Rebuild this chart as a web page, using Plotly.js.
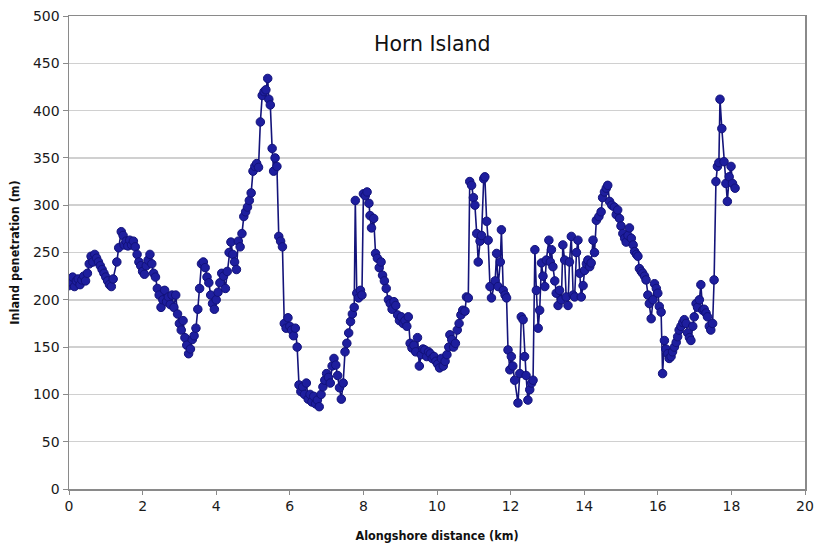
<!DOCTYPE html>
<html><head><meta charset="utf-8">
<script src="https://cdn.plot.ly/plotly-3.0.1.min.js"></script>
<style>body{margin:0;background:#fff}#c{width:816px;height:546px}</style>
</head><body><div id="c"></div>
<script>
const distanceKm = [
0.00,0.05,0.10,0.15,0.20,0.25,0.30,0.35,0.40,0.45,0.50,0.55,0.60,0.65,0.70,0.75,0.80,0.85,0.90,0.95,
1.00,1.05,1.10,1.15,1.20,1.30,1.35,1.42,1.47,1.50,1.55,1.60,1.65,1.70,1.75,1.80,1.85,1.90,1.95,2.00,
2.05,2.10,2.15,2.20,2.25,2.30,2.35,2.40,2.45,2.50,2.55,2.60,2.65,2.70,2.75,2.80,2.85,2.90,2.95,3.00,
3.05,3.10,3.15,3.20,3.25,3.30,3.35,3.40,3.45,3.50,3.55,3.60,3.65,3.70,3.75,3.80,3.85,3.90,3.95,4.00,
4.05,4.10,4.15,4.20,4.25,4.30,4.35,4.40,4.45,4.50,4.55,4.60,4.65,4.70,4.75,4.80,4.85,4.90,4.95,5.00,
5.05,5.10,5.15,5.20,5.25,5.30,5.35,5.40,5.43,5.47,5.52,5.56,5.60,5.65,5.70,5.75,5.80,5.85,5.90,5.95,
6.00,6.05,6.10,6.15,6.20,6.25,6.30,6.35,6.40,6.45,6.50,6.55,6.60,6.65,6.70,6.75,6.80,6.85,6.90,6.95,
7.00,7.05,7.10,7.15,7.20,7.25,7.30,7.35,7.40,7.45,7.50,7.55,7.60,7.65,7.70,7.75,7.78,7.82,7.87,7.92,
7.96,8.00,8.05,8.10,8.15,8.18,8.22,8.28,8.33,8.38,8.43,8.48,8.52,8.57,8.62,8.68,8.73,8.78,8.83,8.88,
8.93,8.98,9.03,9.08,9.13,9.18,9.22,9.27,9.32,9.37,9.42,9.47,9.52,9.57,9.62,9.67,9.72,9.77,9.82,9.87,
9.92,9.97,10.02,10.07,10.12,10.17,10.22,10.27,10.32,10.35,10.40,10.45,10.50,10.55,10.60,10.65,10.70,10.76,10.80,10.85,
10.89,10.94,10.99,11.03,11.08,11.12,11.17,11.21,11.27,11.30,11.35,11.39,11.44,11.48,11.58,11.62,11.66,11.72,11.75,11.80,
11.85,11.89,11.93,11.98,12.02,12.06,12.11,12.20,12.25,12.29,12.34,12.38,12.42,12.47,12.52,12.57,12.61,12.66,12.70,12.75,
12.79,12.84,12.88,12.93,12.97,13.04,13.08,13.11,13.15,13.20,13.24,13.29,13.33,13.38,13.42,13.47,13.51,13.56,13.60,13.65,
13.70,13.74,13.79,13.83,13.88,13.92,13.97,14.01,14.06,14.10,14.15,14.19,14.24,14.28,14.33,14.40,14.46,14.50,14.55,14.60,
14.64,14.69,14.75,14.82,14.87,14.91,14.96,15.00,15.05,15.10,15.14,15.19,15.23,15.28,15.33,15.37,15.42,15.46,15.50,15.55,
15.59,15.64,15.68,15.73,15.77,15.82,15.87,15.91,15.96,16.00,16.04,16.09,16.13,16.18,16.22,16.27,16.31,16.36,16.40,16.45,
16.50,16.54,16.58,16.63,16.68,16.72,16.77,16.81,16.86,16.90,16.95,16.99,17.04,17.08,17.13,17.17,17.22,17.26,17.31,17.35,
17.40,17.44,17.49,17.53,17.58,17.62,17.66,17.69,17.74,17.80,17.85,17.89,17.94,17.99,18.03,18.10
];
const penetrationM = [
215,219,224,214,220,222,216,221,225,220,228,238,246,240,248,244,240,236,232,228,
224,220,216,214,222,240,255,272,268,258,262,257,263,258,262,256,248,240,236,230,
227,236,242,248,238,228,224,212,205,192,200,210,198,203,195,205,192,205,185,175,
168,178,160,152,143,148,158,162,170,190,212,238,240,234,224,218,205,196,190,200,
208,218,228,225,212,230,250,261,248,240,232,262,256,270,288,293,298,305,313,336,
341,344,340,388,416,420,422,434,412,406,360,336,350,341,267,262,256,175,170,181,
172,168,162,170,150,110,103,108,100,112,95,100,92,98,90,94,87,100,108,115,
122,118,112,130,138,131,120,107,95,112,145,154,165,177,185,192,305,207,202,210,
205,312,310,314,302,289,276,286,249,244,234,240,226,220,212,200,196,190,198,194,
184,178,182,175,178,172,182,154,149,152,145,160,130,142,148,147,140,145,143,138,
140,135,132,128,138,130,135,142,150,163,158,150,154,168,175,184,189,188,203,202,
325,321,308,300,270,240,262,268,328,330,283,263,214,202,220,249,214,240,274,210,
205,202,147,126,140,130,115,91,122,182,179,140,120,94,105,112,115,253,210,170,
189,239,225,214,242,263,240,253,235,220,207,194,210,200,258,242,203,194,240,267,
205,203,250,263,228,203,215,231,238,242,235,239,263,250,284,288,293,308,314,318,
321,304,300,298,290,295,286,278,270,265,261,268,276,265,258,251,248,246,233,230,
228,225,221,205,196,180,200,217,212,207,193,187,122,157,148,143,138,140,145,150,
155,161,168,172,176,179,175,165,160,157,172,182,196,192,200,216,189,190,186,182,
172,168,175,221,325,341,345,412,381,346,323,304,330,341,323,318
];
const xTicks = [0,2,4,6,8,10,12,14,16,18,20];
const yTicks = [0,50,100,150,200,250,300,350,400,450,500];
const chartTitle = 'Horn Island';

const trace = {
  x: distanceKm, y: penetrationM, type: 'scatter', mode: 'lines+markers',
  line: {color: '#14147a', width: 1.6},
  marker: {color: '#1e1e9e', size: 8.5, line: {color: '#12127a', width: 1}},
  hoverinfo: 'skip'
};
const tickFont = {family: '"DejaVu Sans", sans-serif', size: 14, color: '#1a1a1a'};
const titleFont = {family: '"DejaVu Sans Condensed", "DejaVu Sans", sans-serif', size: 12.5, color: '#111', weight: 'bold'};
const layout = {
  width: 816, height: 546,
  margin: {l: 69, r: 11, t: 16, b: 57},
  paper_bgcolor: '#fff', plot_bgcolor: '#fff',
  showlegend: false,
  xaxis: {
    range: [0, 20], tickvals: xTicks, ticktext: xTicks.map(String),
    showgrid: false, zeroline: false, showline: true, mirror: true,
    linecolor: '#8a8a8a', linewidth: 1.5,
    ticks: 'outside', ticklen: 4, tickcolor: '#8a8a8a', tickfont: tickFont,
    title: {text: 'Alongshore distance (km)', standoff: 18, font: titleFont}
  },
  yaxis: {
    range: [0, 500], tickvals: yTicks, ticktext: yTicks.map(String),
    showgrid: true, gridcolor: '#d0d0d0', gridwidth: 1.5, zeroline: false,
    showline: true, mirror: true, linecolor: '#8a8a8a', linewidth: 1.5,
    ticks: 'outside', ticklen: 5, tickcolor: '#8a8a8a', tickfont: tickFont,
    title: {text: 'Inland penetration (m)', standoff: 10, font: titleFont}
  },
  annotations: [{
    text: chartTitle, x: 0.494, y: 0.94, xref: 'paper', yref: 'paper', showarrow: false,
    xanchor: 'center', yanchor: 'middle',
    font: {family: '"DejaVu Sans", sans-serif', size: 20.5, color: '#111'}
  }]
};
Plotly.newPlot('c', [trace], layout, {displayModeBar: false, staticPlot: true});
</script></body></html>
